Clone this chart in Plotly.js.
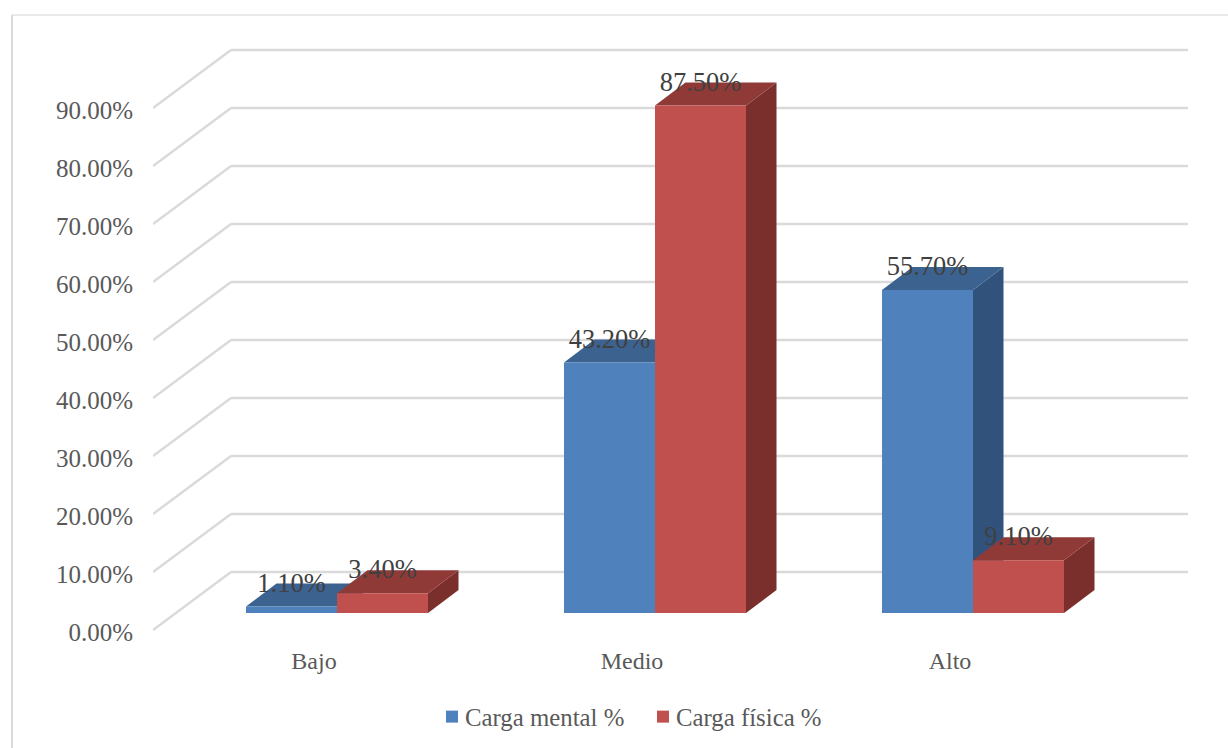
<!DOCTYPE html>
<html>
<head>
<meta charset="utf-8">
<script src="https://cdn.plot.ly/plotly-3.0.1.min.js"></script>
<style>html,body{margin:0;padding:0;background:#fff}#chart{width:1228px;height:748px}</style>
</head>
<body>
<div id="chart"></div>
<script>
// Workload levels and the share of people at each level
const categories = ['Bajo', 'Medio', 'Alto'];
const cargaMental = [1.1, 43.2, 55.7];
const cargaFisica = [3.4, 87.5, 9.1];
const seriesNames = ['Carga mental %', 'Carga física %'];
const yTicks = [0, 10, 20, 30, 40, 50, 60, 70, 80, 90];
const yTickLabels = ['0.00%', '10.00%', '20.00%', '30.00%', '40.00%', '50.00%', '60.00%', '70.00%', '80.00%', '90.00%'];

const frontColors = ['#4F81BD', '#C0504D'];
const topColors = ['#3C6290', '#8F3A37'];
const sideColors = ['#31527B', '#7B2F2D'];
const gridColor = '#DADADA';
const serif = '"Liberation Serif", serif';

// Plot area in page pixels
const W = 1228, H = 748;
const plot = {l: 153, r: 1188, t: 48, b: 632};
const pxPerCat = 318, pxPerPct = 5.8;

const xRange = [-161 / pxPerCat, -161 / pxPerCat + (plot.r - plot.l) / pxPerCat];
const yRange = [-2 / pxPerPct, 100 + 2 / pxPerPct];

// Oblique projection: depth of a column and of the whole floor, in axis units
const barDepthX = 30.5 / pxPerCat, barDepthY = 23 / pxPerPct;
const wallDepthX = 78 / pxPerCat, wallDepthY = 10;
const floorLift = 17 / pxPerPct;      // columns stand this far up the floor
const barWidth = 91 / pxPerCat;
const barOffsets = [-68 / pxPerCat, 23 / pxPerCat];

function poly(points, color) {
  const path = points.map((p, i) => (i ? 'L' : 'M') + p[0] + ',' + p[1]).join(' ') + ' Z';
  return {type: 'path', path, xref: 'x', yref: 'y', fillcolor: color,
          line: {width: 0}, layer: 'below'};
}
function gridLine(x0, y0, x1, y1) {
  return {type: 'line', xref: 'x', yref: 'y', x0, y0, x1, y1, layer: 'below',
          line: {color: gridColor, width: 2.5}};
}
const paperX = px => (px - plot.l) / (plot.r - plot.l);
const paperY = py => (plot.b - py) / (plot.b - plot.t);

const shapes = [];

// Chart frame
shapes.push({type: 'line', xref: 'paper', yref: 'paper', layer: 'below',
  x0: paperX(12), x1: paperX(12), y0: paperY(15), y1: paperY(H), line: {color: gridColor, width: 2}});
shapes.push({type: 'line', xref: 'paper', yref: 'paper', layer: 'below',
  x0: paperX(12), x1: paperX(W), y0: paperY(15), y1: paperY(15), line: {color: '#E2E2E2', width: 1.5}});

// Side wall diagonals and back wall gridlines
yTicks.forEach(v => {
  shapes.push(gridLine(xRange[0], v, xRange[0] + wallDepthX, v + wallDepthY));
  shapes.push(gridLine(xRange[0] + wallDepthX, v + wallDepthY, xRange[1], v + wallDepthY));
});

// Top and side faces of the columns, painted behind the front faces
[cargaMental, cargaFisica].forEach((values, s) => {
  values.forEach((v, i) => {
    const x0 = i + barOffsets[s], x1 = x0 + barWidth;
    const y0 = floorLift, y1 = floorLift + v;
    shapes.push(poly([[x1, y0], [x1 + barDepthX, y0 + barDepthY],
                      [x1 + barDepthX, y1 + barDepthY], [x1, y1]], sideColors[s]));
    shapes.push(poly([[x0, y1], [x1, y1], [x1 + barDepthX, y1 + barDepthY],
                      [x0 + barDepthX, y1 + barDepthY]], topColors[s]));
  });
});

const xIdx = categories.map((_, i) => i);
const frontBar = (values, s) => ({
  type: 'bar', name: seriesNames[s], x: xIdx, y: values,
  base: floorLift, width: barWidth, offset: barOffsets[s],
  marker: {color: frontColors[s], line: {width: 0}}, hoverinfo: 'skip'
});

// Value labels float just above each front face
const labelLift = 21.5 / pxPerPct;
const valueLabels = (values, s) => ({
  type: 'scatter', mode: 'text', showlegend: false, hoverinfo: 'skip', cliponaxis: false,
  x: xIdx.map(i => i + barOffsets[s] + barWidth / 2),
  y: values.map(v => floorLift + v + labelLift),
  text: values.map(v => v.toFixed(2) + '%'),
  textposition: 'middle center',
  textfont: {family: serif, size: 26.5, color: '#404040'}
});

const data = [
  frontBar(cargaMental, 0), frontBar(cargaFisica, 1),
  valueLabels(cargaMental, 0), valueLabels(cargaFisica, 1)
];

const swatchShift = 7;
const layout = {
  width: W, height: H,
  margin: {l: plot.l, r: W - plot.r, t: plot.t, b: H - plot.b, pad: 0},
  paper_bgcolor: '#fff', plot_bgcolor: '#fff',
  barmode: 'overlay', shapes,
  font: {family: serif, color: '#595959', size: 24},
  xaxis: {
    type: 'linear', range: xRange, tickvals: xIdx, ticktext: categories,
    showgrid: false, zeroline: false, showline: false,
    ticks: 'outside', ticklen: 7, tickcolor: 'rgba(0,0,0,0)',
    tickfont: {family: serif, size: 24, color: '#595959'}
  },
  yaxis: {
    type: 'linear', range: yRange, tickvals: yTicks, ticktext: yTickLabels,
    showgrid: false, zeroline: false, showline: false,
    ticks: 'outside', ticklen: 14, tickcolor: 'rgba(0,0,0,0)', ticklabelshift: 2,
    tickfont: {family: serif, size: 25, color: '#595959'}
  },
  legend: {
    orientation: 'h',
    xref: 'container', yref: 'container',
    x: (432 - swatchShift) / W, xanchor: 'left',
    y: 1 - 717 / H, yanchor: 'middle',
    entrywidth: 166, entrywidthmode: 'pixels',
    font: {family: serif, size: 24.8, color: '#595959'}, bgcolor: 'rgba(0,0,0,0)'
  },
  showlegend: true
};

Plotly.newPlot('chart', data, layout, {displayModeBar: false, staticPlot: true}).then(gd => {
  // Tighten the gap between each legend swatch and its text
  gd.querySelectorAll('.legend .legendpoints').forEach(g => {
    g.setAttribute('transform', 'translate(' + swatchShift + ',0)');
  });
});
</script>
</body>
</html>
